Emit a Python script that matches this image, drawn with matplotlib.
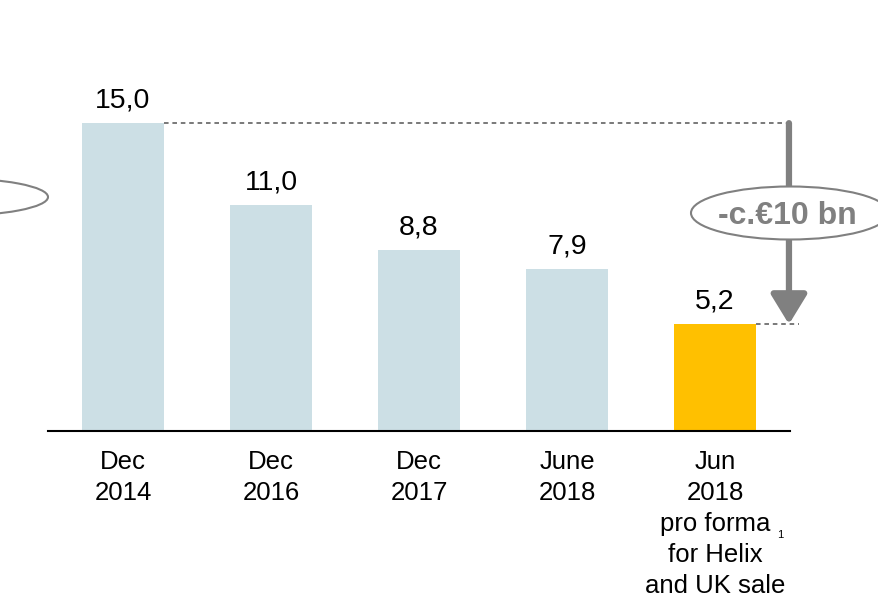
import matplotlib
matplotlib.use("Agg")
import matplotlib.pyplot as plt
from matplotlib.patches import Ellipse, FancyArrowPatch

plt.rcParams['font.family'] = ['Liberation Sans', 'DejaVu Sans']

categories = ["Dec\n2014", "Dec\n2016", "Dec\n2017", "June\n2018",
              "Jun\n2018\npro forma\nfor Helix\nand UK sale"]
values = [15.0, 11.0, 8.8, 7.9, 5.2]
labels = ["15,0", "11,0", "8,8", "7,9", "5,2"]
colors = ["#CCDFE5", "#CCDFE5", "#CCDFE5", "#CCDFE5", "#FFC000"]

fig = plt.figure(figsize=(8.79, 6.06), dpi=100)
ax = fig.add_axes([48/879, (606-431)/606, 742/879, 431/606])
x = list(range(len(values)))
ax.bar(x, values, width=0.554, color=colors, zorder=2)
ax.set_xlim(-0.507, 4.507)
ax.set_ylim(0, 21.0)
for s in ["top", "right", "left"]:
    ax.spines[s].set_visible(False)
ax.spines["bottom"].set_linewidth(1.5)
ax.set_yticks([])
ax.set_xticks([])

for xi, v, lab in zip(x, values, labels):
    ax.text(xi, v + 0.48, lab, ha="center", va="bottom", fontsize=20.5, color="black")

for xi, cat in zip(x, categories):
    ax.text(xi, -0.92, cat, ha="center", va="top", fontsize=18.5, linespacing=1.37,
            transform=ax.transData, clip_on=False)
# footnote marker
fig.text(780/879, 1 - 535/606, "1", fontsize=8, ha="center", va="center")

# dashed reference lines
ax.plot([0.277, 4.5], [15.0, 15.0], ls=(0, (3, 2.5)), color="#555555", lw=1.1, zorder=3)
ax.plot([4.277, 4.57], [5.2, 5.2], ls=(0, (3, 2.5)), color="#555555", lw=1.1,
        zorder=3, clip_on=False)

# arrow
arr = FancyArrowPatch((4.5, 15.0), (4.5, 5.2), arrowstyle="-|>,head_length=9,head_width=5.5",
                      color="#808080", lw=4.5, shrinkA=0, shrinkB=0, zorder=4,
                      clip_on=False, mutation_scale=2)
ax.add_patch(arr)

# ellipses
fig.patches.append(Ellipse((790/879, 1 - 213/606), 198/879, 53/606, transform=fig.transFigure,
                           facecolor="white", edgecolor="#808080", lw=1.5, zorder=5))
fig.text(787/879, 1 - 216/606, "-c.€10 bn", ha="center", va="center", fontsize=23,
         fontweight="bold", color="#808080", zorder=6)
fig.patches.append(Ellipse((-52/879, 1 - 197/606), 200/879, 38/606, transform=fig.transFigure,
                           facecolor="white", edgecolor="#808080", lw=1.5, zorder=5))

fig.savefig("out.png", dpi=100)
